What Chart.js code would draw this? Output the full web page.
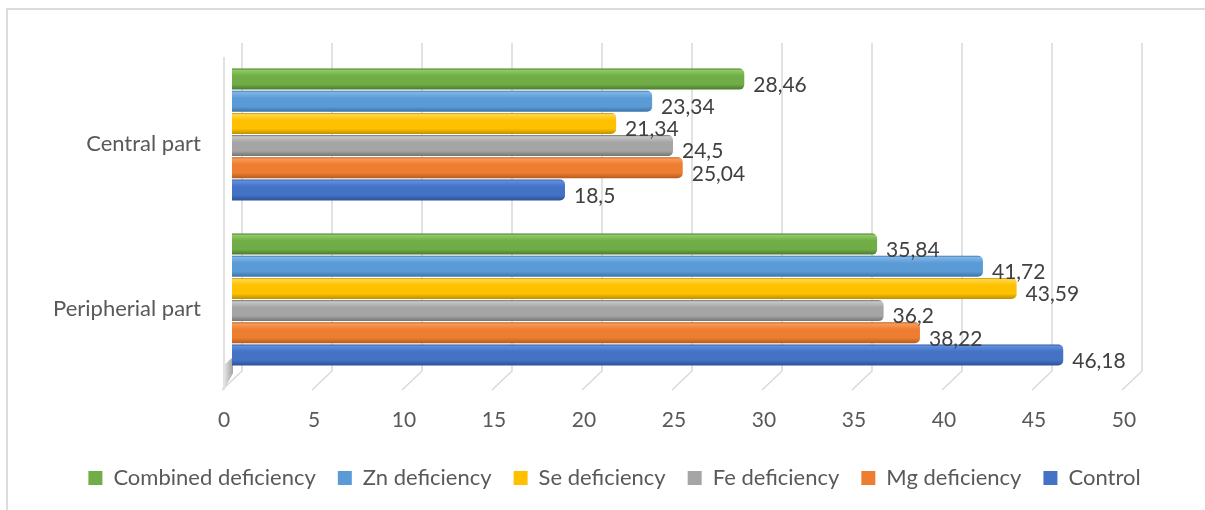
<!DOCTYPE html>
<html>
<head>
<meta charset="utf-8">
<script src="https://cdn.jsdelivr.net/npm/chart.js@4/dist/chart.umd.min.js"></script>
<style>
  html, body { margin: 0; padding: 0; background: #fff; overflow: hidden; }
  #wrap { position: relative; width: 1205px; height: 510px; overflow: hidden; }
  #frame { position: absolute; left: 6px; top: 8px; width: 1230px; height: 520px; border: 2px solid #dcdcdc; box-sizing: border-box; }
  canvas { position: absolute; left: 0; top: 0; }
</style>
</head>
<body>
<div id="wrap">
  <div id="frame"></div>
  <canvas id="c" width="1205" height="510"></canvas>
</div>
<script>
// ---- data ----
const categories = ['Central part', 'Peripherial part'];
const seriesNames = ['Combined deficiency', 'Zn deficiency', 'Se deficiency', 'Fe deficiency', 'Mg deficiency', 'Control'];
const combinedDeficiency = [28.46, 35.84];
const znDeficiency = [23.34, 41.72];
const seDeficiency = [21.34, 43.59];
const feDeficiency = [24.5, 36.2];
const mgDeficiency = [25.04, 38.22];
const control = [18.5, 46.18];
const xMin = 0, xMax = 50, xStep = 5;

// ---- styles ----
const baseColors = ['#70AD47', '#5B9BD5', '#FFC000', '#A5A5A5', '#ED7D31', '#4472C4'];
const lightColors = ['#8FCB62', '#7EB6E8', '#FFD64A', '#C6C6C6', '#FA9A55', '#5E8EE0'];
const darkColors = ['#4A7A2E', '#3B74A8', '#BF8F00', '#737373', '#B55A1B', '#2C5296'];
const seriesValues = [combinedDeficiency, znDeficiency, seDeficiency, feDeficiency, mgDeficiency, control];

const FONT = 'Lato, "Open Sans", sans-serif';

const gradientPlugin = {
  id: 'barGradient',
  beforeDatasetsDraw(chart) {
    const ctx = chart.ctx;
    chart.data.datasets.forEach((ds, i) => {
      const meta = chart.getDatasetMeta(i);
      meta.data.forEach(el => {
        const h = el.height;
        const t = el.y - h / 2;
        const g = ctx.createLinearGradient(0, t, 0, t + h);
        g.addColorStop(0, darkColors[i]);
        g.addColorStop(0.08, lightColors[i]);
        g.addColorStop(0.35, baseColors[i]);
        g.addColorStop(0.75, baseColors[i]);
        g.addColorStop(1, darkColors[i]);
        el.options = Object.assign({}, el.options, { backgroundColor: g });
      });
    });
  }
};

const gridPlugin = {
  id: 'grid3d',
  beforeDatasetsDraw(chart) {
    const ctx = chart.ctx;
    const xs = chart.scales.x;
    const area = chart.chartArea;
    const topY = area.top - 9;
    const backY = area.bottom - 11;
    const frontY = area.bottom + 8;
    ctx.save();
    ctx.strokeStyle = '#d9d9d9';
    ctx.lineWidth = 1.5;
    for (let v = xMin; v <= xMax; v += xStep) {
      const px = xs.getPixelForValue(v) + 10;
      ctx.beginPath();
      ctx.moveTo(px, topY);
      ctx.lineTo(px, backY);
      ctx.lineTo(px - 20, frontY);
      ctx.stroke();
    }
    // left side wall
    ctx.beginPath();
    ctx.moveTo(area.left - 8, area.top + 5);
    ctx.lineTo(area.left - 8, frontY);
    ctx.stroke();
    const wg = ctx.createLinearGradient(area.left - 8, 0, area.left + 2, 0);
    wg.addColorStop(0, '#e6e6e6');
    wg.addColorStop(1, '#9a9a9a');
    ctx.fillStyle = wg;
    ctx.beginPath();
    ctx.moveTo(area.left - 8, backY - 6);
    ctx.lineTo(area.left + 1, backY - 14);
    ctx.lineTo(area.left + 1, backY + 2);
    ctx.lineTo(area.left - 8, frontY);
    ctx.closePath();
    ctx.fill();
    ctx.restore();
  }
};

const labelPlugin = {
  id: 'valueLabels',
  afterDatasetsDraw(chart) {
    const ctx = chart.ctx;
    ctx.save();
    ctx.font = '21px ' + FONT;
    ctx.fillStyle = '#404040';
    ctx.textAlign = 'left';
    ctx.textBaseline = 'middle';
    chart.data.datasets.forEach((ds, i) => {
      const meta = chart.getDatasetMeta(i);
      meta.data.forEach((el, j) => {
        const txt = String(ds.data[j]).replace('.', ',');
        ctx.fillText(txt, el.x + 9, el.y + 6);
      });
    });
    ctx.restore();
  }
};

const datasets = seriesNames.map((name, i) => ({
  label: name,
  data: seriesValues[i],
  backgroundColor: baseColors[i],
  borderWidth: 0,
  borderRadius: 5,
  borderSkipped: 'start',
  categoryPercentage: 0.806,
  barPercentage: 0.95
}));

new Chart(document.getElementById('c'), {
  type: 'bar',
  data: { labels: categories, datasets },
  plugins: [gradientPlugin, gridPlugin, labelPlugin],
  options: {
    indexAxis: 'y',
    responsive: false,
    animation: false,
    events: [],
    layout: { padding: { top: 52, left: 24, right: 0, bottom: 11 } },
    scales: {
      x: {
        min: xMin, max: xMax,
        border: { display: false },
        grid: { display: false, drawTicks: false },
        ticks: {
          stepSize: xStep,
          padding: 26,
          labelOffset: -8,
          color: '#595959',
          font: { family: FONT, size: 21 }
        },
        afterFit(s) { s.height = 63; }
      },
      y: {
        border: { display: false },
        grid: { display: false, drawTicks: false },
        ticks: {
          padding: 31,
          labelOffset: 9,
          color: '#595959',
          font: { family: FONT, size: 22 }
        },
        afterFit(s) { s.width = 208; }
      },
      yRight: {
        type: 'category',
        position: 'right',
        display: true,
        border: { display: false },
        grid: { display: false, drawTicks: false },
        ticks: { display: false },
        afterFit(s) { s.width = 73; }
      }
    },
    plugins: {
      tooltip: { enabled: false },
      legend: {
        position: 'bottom',
        labels: {
          boxWidth: 14,
          boxHeight: 14,
          padding: 22,
          color: '#595959',
          font: { family: FONT, size: 22 }
        }
      }
    }
  }
});
</script>
</body>
</html>
